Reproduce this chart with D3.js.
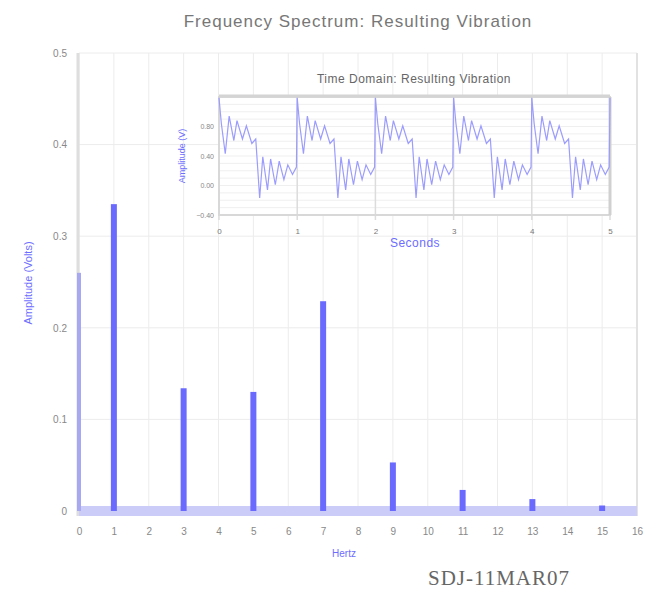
<!DOCTYPE html>
<html>
<head>
<meta charset="utf-8">
<script src="https://cdn.jsdelivr.net/npm/d3@7"></script>
<style>
  body { margin: 0; background: #fff; }
  svg { display: block; font-family: "Liberation Sans", Arial, sans-serif; }
</style>
</head>
<body>
<div id="svgDiv"></div>
<script>
// spectrum data
var freqHz = [0, 1, 3, 5, 7, 9, 11, 13, 15];
var amplitude = [0.26, 0.335, 0.134, 0.13, 0.229, 0.053, 0.023, 0.013, 0.006];
var xTicks = d3.range(0, 17);
var yTicks = [0, 0.1, 0.2, 0.3, 0.4, 0.5];

// time domain, one cycle, repeated each second
var cyclePhase = [0.00, 0.03, 0.08, 0.13, 0.19, 0.23, 0.30, 0.35, 0.42, 0.47,
                  0.52, 0.56, 0.62, 0.66, 0.72, 0.77, 0.83, 0.88, 0.94, 0.99];
var cycleVolts = [1.19, 0.84, 0.43, 0.94, 0.61, 0.88, 0.63, 0.81, 0.57, 0.63,
                  -0.17, 0.39, -0.06, 0.36, 0.01, 0.33, 0.08, 0.28, 0.15, 0.25];
var cycleStarts = [0, 1, 2, 3, 4];
var insetXTicks = [0, 1, 2, 3, 4, 5];
var insetYTicks = [-0.4, 0, 0.4, 0.8];

var W = 655, H = 599;
var svg = d3.select("#svgDiv").append("svg")
            .attr("width", W).attr("height", H);

//main scales
var x = d3.scaleLinear().domain([0, 16]).range([79, 637]);
var y = d3.scaleLinear().domain([0, 0.5]).range([511, 53]);

var main = svg.append("g").attr("id", "mainGroup");

//grid
main.append("g").selectAll("line").data(xTicks).join("line")
    .attr("x1", d => x(d)).attr("x2", d => x(d))
    .attr("y1", y(0.5)).attr("y2", y(0))
    .attr("stroke", "#ececec").attr("stroke-width", 1);
main.append("g").selectAll("line").data(yTicks).join("line")
    .attr("x1", x(0)).attr("x2", x(16))
    .attr("y1", d => y(d)).attr("y2", d => y(d))
    .attr("stroke", "#ececec").attr("stroke-width", 1);

//axis frame lines
main.append("line")
    .attr("x1", x(0) - 1).attr("x2", x(0) - 1)
    .attr("y1", y(0.5)).attr("y2", y(0) + 5)
    .attr("stroke", "#dedede").attr("stroke-width", 3);
main.append("line")
    .attr("x1", x(16)).attr("x2", x(16))
    .attr("y1", y(0.5)).attr("y2", y(0) + 5)
    .attr("stroke", "#e2e2e2").attr("stroke-width", 2);

//zero strip
main.append("line")
    .attr("x1", x(0)).attr("x2", x(16))
    .attr("y1", y(0)).attr("y2", y(0))
    .attr("stroke", "#ccccf8").attr("stroke-width", 10);

//bars
main.append("g").selectAll("rect")
    .data(freqHz.map((f, i) => ({f: f, a: amplitude[i]})))
    .join("rect")
    .attr("x", d => d.f === 0 ? x(d.f) - 2 : x(d.f) - 3)
    .attr("width", d => d.f === 0 ? 4 : 6)
    .attr("y", d => y(d.a))
    .attr("height", d => y(0) - y(d.a))
    .attr("fill", d => d.f === 0 ? "#a8a8f0" : "#6a6aff");

//axes
var xAxis = d3.axisBottom(x).tickValues(xTicks).tickSize(0).tickPadding(0).tickFormat(d3.format("d"));
var gx = main.append("g").attr("transform", "translate(0," + (y(0) + 17) + ")").call(xAxis);
gx.select(".domain").remove();
gx.selectAll("text").attr("fill", "#888").attr("font-size", 10);

var yAxis = d3.axisLeft(y).tickValues(yTicks).tickSize(0).tickPadding(0).tickFormat(d => d === 0 ? "0" : d3.format(".1f")(d));
var gy = main.append("g").attr("transform", "translate(" + (x(0) - 12) + ",0)").call(yAxis);
gy.select(".domain").remove();
gy.selectAll("text").attr("fill", "#888").attr("font-size", 10);

//titles
svg.append("text").attr("x", 358).attr("y", 27)
   .attr("text-anchor", "middle").attr("font-size", 17).attr("fill", "#777")
   .attr("letter-spacing", 1)
   .text("Frequency Spectrum: Resulting Vibration");
svg.append("text").attr("x", 344).attr("y", 557)
   .attr("text-anchor", "middle").attr("font-size", 10).attr("fill", "#6d6dff")
   .text("Hertz");
svg.append("text").attr("transform", "translate(32,283) rotate(-90)")
   .attr("text-anchor", "middle").attr("font-size", 11).attr("fill", "#6d6dff")
   .text("Amplitude (Volts)");
svg.append("text").attr("x", 499).attr("y", 585)
   .attr("text-anchor", "middle").attr("font-size", 21).attr("fill", "#666")
   .attr("letter-spacing", 1)
   .attr("font-family", "Liberation Serif, Times New Roman, serif")
   .text("SDJ-11MAR07");

//inset
var ix = d3.scaleLinear().domain([0, 5]).range([219, 610]);
var iy = d3.scaleLinear().domain([-0.4, 1.2]).range([215, 97]);
var inset = svg.append("g").attr("id", "insetGroup");

inset.append("rect").attr("x", ix(0)).attr("y", iy(1.2))
     .attr("width", ix(5) - ix(0)).attr("height", iy(-0.4) - iy(1.2))
     .attr("fill", "#fff");
inset.append("g").selectAll("line").data(d3.range(-0.4, 1.2001, 0.1)).join("line")
     .attr("x1", ix(0)).attr("x2", ix(5))
     .attr("y1", d => iy(d)).attr("y2", d => iy(d))
     .attr("stroke", "#efefef");
inset.append("g").selectAll("line").data(insetXTicks).join("line")
     .attr("x1", d => ix(d)).attr("x2", d => ix(d))
     .attr("y1", iy(1.2)).attr("y2", iy(-0.4) + 5)
     .attr("stroke", "#dcdcdc").attr("stroke-width", 1.5);
inset.append("rect").attr("x", ix(0)).attr("y", iy(1.2))
     .attr("width", ix(5) - ix(0)).attr("height", iy(-0.4) - iy(1.2))
     .attr("fill", "none").attr("stroke", "#d8d8d8").attr("stroke-width", 2);
inset.append("line").attr("x1", ix(0)).attr("x2", ix(5))
     .attr("y1", iy(1.2) - 1).attr("y2", iy(1.2) - 1)
     .attr("stroke", "#d4d4d4").attr("stroke-width", 3);
inset.append("line").attr("x1", ix(5)).attr("x2", ix(5))
     .attr("y1", iy(1.2)).attr("y2", iy(-0.4))
     .attr("stroke", "#d0d0d0").attr("stroke-width", 3);

var pts = [];
cycleStarts.forEach(function(s) {
  cyclePhase.forEach(function(p, i) { pts.push([s + p, cycleVolts[i]]); });
});
pts.push([5, cycleVolts[0]]);
inset.append("path").datum(pts)
     .attr("d", d3.line().x(d => ix(d[0])).y(d => iy(d[1])))
     .attr("fill", "none").attr("stroke", "#9c9cff").attr("stroke-width", 1.2);

var ixAxis = d3.axisBottom(ix).tickValues(insetXTicks).tickSize(0).tickPadding(0).tickFormat(d3.format("d"));
var gix = inset.append("g").attr("transform", "translate(0," + (iy(-0.4) + 13) + ")").call(ixAxis);
gix.select(".domain").remove();
gix.selectAll("text").attr("fill", "#777").attr("font-size", 8);
var iyAxis = d3.axisLeft(iy).tickValues(insetYTicks).tickSize(0).tickPadding(0).tickFormat(d3.format(".2f"));
var giy = inset.append("g").attr("transform", "translate(" + (ix(0) - 5) + ",0)").call(iyAxis);
giy.select(".domain").remove();
giy.selectAll("text").attr("fill", "#888").attr("font-size", 7);

svg.append("text").attr("x", 414).attr("y", 83)
   .attr("text-anchor", "middle").attr("font-size", 12).attr("fill", "#666")
   .attr("letter-spacing", 0.5)
   .text("Time Domain: Resulting Vibration");
svg.append("text").attr("x", 415).attr("y", 247)
   .attr("text-anchor", "middle").attr("font-size", 12).attr("fill", "#6d6dff")
   .attr("letter-spacing", 0.5)
   .text("Seconds");
svg.append("text").attr("transform", "translate(185,156) rotate(-90)")
   .attr("text-anchor", "middle").attr("font-size", 9).attr("fill", "#6d6dff")
   .text("Amplitude (V)");
</script>
</body>
</html>
